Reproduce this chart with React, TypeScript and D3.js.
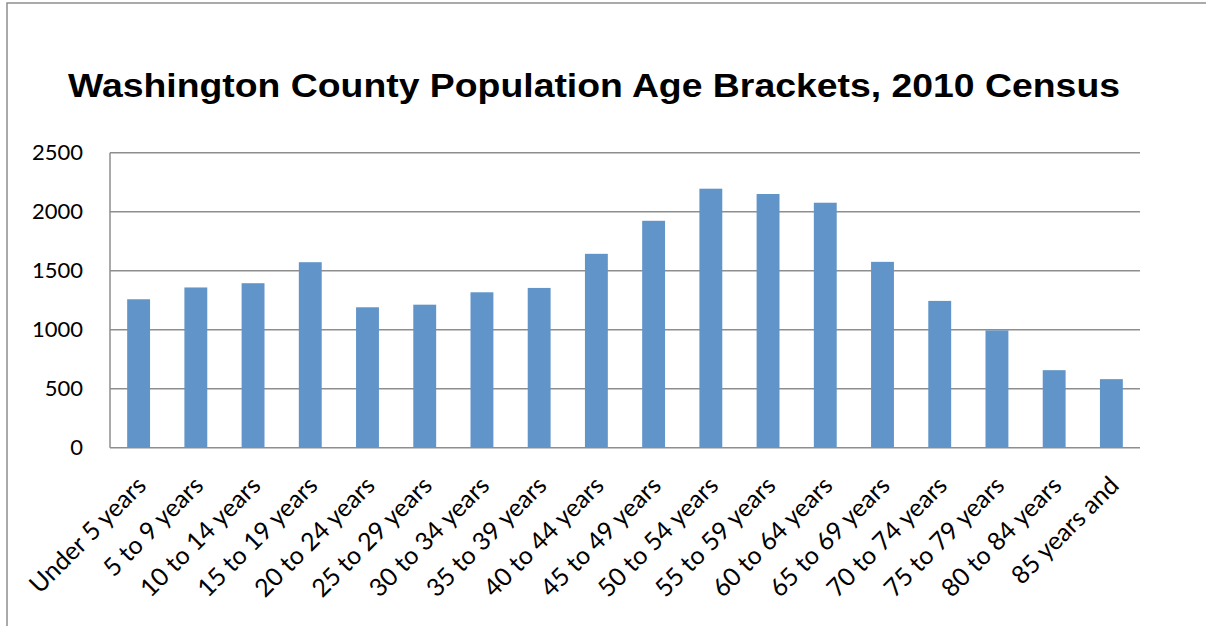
import React from "react";
import * as d3 from "d3";

const ageGroups: string[] = [
  "Under 5 years", "5 to 9 years", "10 to 14 years", "15 to 19 years",
  "20 to 24 years", "25 to 29 years", "30 to 34 years", "35 to 39 years",
  "40 to 44 years", "45 to 49 years", "50 to 54 years", "55 to 59 years",
  "60 to 64 years", "65 to 69 years", "70 to 74 years", "75 to 79 years",
  "80 to 84 years", "85 years and",
];

const population: number[] = [
  1258, 1358, 1394, 1572, 1190, 1212, 1317, 1354, 1643, 1923,
  2195, 2150, 2076, 1575, 1244, 994, 657, 581,
];

const yTicks: number[] = [0, 500, 1000, 1500, 2000, 2500];

const chartTitle = "Washington County Population Age Brackets, 2010 Census";

const W = 1206;
const H = 626;
const plot = { left: 110, right: 1140, top: 152.7, bottom: 447.7 };

export default function App() {
  const x = d3
    .scaleBand<string>()
    .domain(ageGroups)
    .range([plot.left, plot.right])
    .paddingInner(0.6)
    .paddingOuter(0.3);
  const y = d3.scaleLinear().domain([0, 2500]).range([plot.bottom, plot.top]);

  const labelFont = "Lato, 'Open Sans', sans-serif";
  const gridColor = "#8e8e8e";

  return (
    <svg
      width={W}
      height={H}
      style={{ position: "absolute", left: 0, top: 0, background: "#fff" }}
    >
      <rect x={7} y={3} width={W + 20} height={H + 20} fill="#fff" stroke="#8e8e8e" strokeWidth={1.5} />

      <text
        x={68}
        y={97}
        textAnchor="start"
        textLength={1052}
        lengthAdjust="spacingAndGlyphs"
        fontFamily="'Liberation Sans', Arial, sans-serif"
        fontWeight="bold"
        fontSize={34}
        fill="#000"
      >
        {chartTitle}
      </text>

      {yTicks.map((t) => (
        <g key={t}>
          <line
            x1={plot.left}
            x2={plot.right}
            y1={y(t)}
            y2={y(t)}
            stroke={gridColor}
            strokeWidth={1.5}
          />
          <text
            x={83}
            y={y(t)}
            dy="0.35em"
            textAnchor="end"
            fontFamily={labelFont}
            fontSize={22}
            fill="#000"
          >
            {t}
          </text>
        </g>
      ))}
      <line x1={plot.left} x2={plot.left} y1={plot.top} y2={plot.bottom} stroke={gridColor} strokeWidth={1.5} />

      {ageGroups.map((g, i) => (
        <rect
          key={g}
          x={x(g)}
          y={y(population[i])}
          width={x.bandwidth()}
          height={plot.bottom - y(population[i])}
          fill="#6195c9"
        />
      ))}

      {ageGroups.map((g) => {
        const cx = (x(g) ?? 0) + x.bandwidth() / 2;
        return (
          <text
            key={g}
            transform={`translate(${cx + 9},${487}) rotate(-45)`}
            textAnchor="end"
            fontFamily={labelFont}
            fontSize={25}
            fill="#000"
          >
            {g}
          </text>
        );
      })}
    </svg>
  );
}
